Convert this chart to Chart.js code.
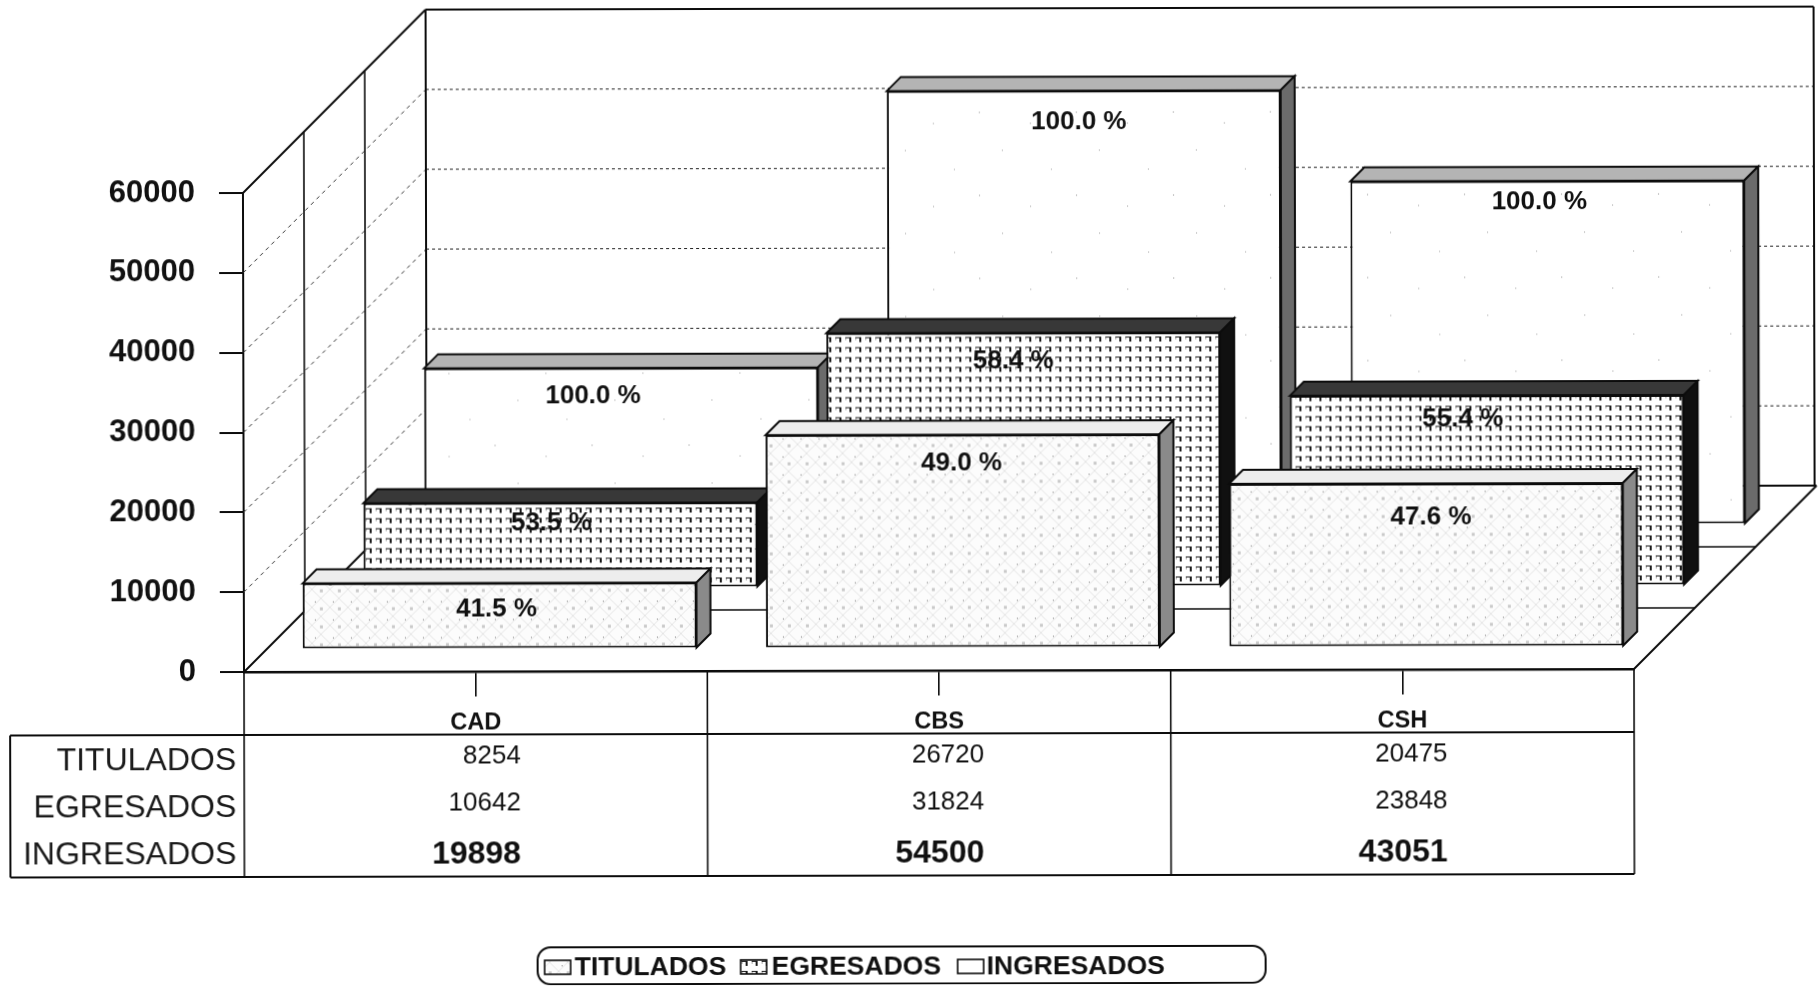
<!DOCTYPE html>
<html lang="es">
<head>
<meta charset="utf-8">
<title>Titulados, egresados e ingresados</title>
<style>
html,body{margin:0;padding:0;background:#fff;overflow:hidden}
#wrap{width:1820px;height:986px;overflow:hidden;background:#fff}
canvas{display:block;transform:rotate(-0.124deg);transform-origin:244px 672px}
</style>
<script src="https://cdn.jsdelivr.net/npm/chart.js@4/dist/chart.umd.min.js"></script>
</head>
<body>
<div id="wrap"><canvas id="c" width="1820" height="986"></canvas></div>
<script>
const categories = ["CAD", "CBS", "CSH"];
const seriesNames = ["TITULADOS", "EGRESADOS", "INGRESADOS"];
const titulados  = [8254, 26720, 20475];
const egresados  = [10642, 31824, 23848];
const ingresados = [19898, 54500, 43051];
const pctTitulados  = ["41.5 %", "49.0 %", "47.6 %"];
const pctEgresados  = ["53.5 %", "58.4 %", "55.4 %"];
const pctIngresados = ["100.0 %", "100.0 %", "100.0 %"];
const yTicksMax = 60000;
const yTickStep = 10000;

const FONT = '"Liberation Sans", Arial, sans-serif';
const INK = '#0c0c0c';

/* 3D layout: each series stands on its own floor row */
const ROW = 61;            /* depth of one floor row, px */
const BAR_DEPTH = 14;      /* depth of a bar's own top/side faces, px */
const ROW_SHIFT = [24, 85, 146];
const BAR_DROP = 1.5;      /* bars sit slightly in front of the row line */
/* hand-placed data labels: nudge from a bar's top centre, as in the original */
const LABEL_NUDGE = [
  [[-3, 28], [-1, 30], [5, 35]],
  [[-9, 22], [-10, 30], [-24, 25]],
  [[-28, 30], [-5, 33], [-8, 23]]
];

function tile(w, h, draw) {
  const c = document.createElement('canvas');
  c.width = w; c.height = h;
  const g = c.getContext('2d');
  draw(g, w, h);
  return g.createPattern(c, 'repeat');
}
const patTitulados = tile(18, 18, (g, w, h) => {
  g.fillStyle = '#fcfcfc'; g.fillRect(0, 0, w, h);
  g.strokeStyle = '#e4e4e4'; g.lineWidth = 1;
  g.beginPath();
  g.moveTo(0, 0); g.lineTo(w, h);
  g.moveTo(w, 0); g.lineTo(0, h);
  g.stroke();
  g.fillStyle = '#cacaca';
  g.fillRect(8, 0, 3, 3);
  g.fillStyle = '#777';
  g.fillRect(3, 12, 1, 1);
});
const patEgresados = tile(10, 10, (g, w, h) => {
  g.fillStyle = '#fff'; g.fillRect(0, 0, w, h);
  g.fillStyle = '#1a1a1a';
  g.fillRect(1, 2, 6, 1);
  g.fillRect(5, 3, 2, 4);
  g.fillStyle = '#aaa';
  g.fillRect(1, 3, 1, 2);
});
const patIngresados = tile(97, 83, (g, w, h) => {
  g.fillStyle = '#fff'; g.fillRect(0, 0, w, h);
  g.fillStyle = '#9a9a9a';
  g.fillRect(12, 20, 1, 1);
  g.fillRect(58, 9, 1, 1);
  g.fillRect(81, 47, 1, 1);
  g.fillRect(33, 66, 1, 1);
});
function dither(a, b) {
  return tile(2, 2, (g) => {
    g.fillStyle = a; g.fillRect(0, 0, 2, 2);
    g.fillStyle = b; g.fillRect(0, 0, 1, 1); g.fillRect(1, 1, 1, 1);
  });
}
const FACES = [
  { top: dither('#f8f8f8', '#e2e2e2'), side: dither('#6c6c6c', '#a8a8a8') },
  { top: dither('#161616', '#5a5a5a'), side: '#101010' },
  { top: dither('#989898', '#d0d0d0'), side: dither('#3c3c3c', '#9a9a9a') }
];
const FILLS = [patTitulados, patEgresados, patIngresados];
const PCTS = [pctTitulados, pctEgresados, pctIngresados];
const TABLE_VALUES = [titulados, egresados, ingresados];

function line(ctx, x1, y1, x2, y2) {
  ctx.beginPath(); ctx.moveTo(x1, y1); ctx.lineTo(x2, y2); ctx.stroke();
}

const walls = {
  id: 'walls',
  beforeDatasetsDraw(chart) {
    const { ctx, scales: { x, y } } = chart;
    const L = x.left, R = x.right, B = y.bottom, T = y.top;
    const D = ROW * 3;
    ctx.save();
    /* dashed gridlines on the side and back walls */
    for (let v = yTickStep; v < yTicksMax; v += yTickStep) {
      const py = y.getPixelForValue(v);
      ctx.strokeStyle = '#333'; ctx.lineWidth = 1; ctx.setLineDash([4, 4]);
      line(ctx, L, py, L + D, py - D);
      ctx.strokeStyle = '#222'; ctx.setLineDash([3, 3]);
      line(ctx, L + D, py - D, R + D - 2, py - D);
    }
    ctx.setLineDash([]);
    ctx.strokeStyle = INK; ctx.lineWidth = 2;
    line(ctx, L, T, L + D, T - D);
    line(ctx, L + D, T - D, R + D - 2, T - D);
    line(ctx, R + D - 2, T - D, R + D - 2, B - D);
    line(ctx, L, B, L + D, B - D);
    line(ctx, R, B, R + D, B - D);
    for (let i = 1; i <= 3; i++) {
      const d = ROW * i;
      /* row divisions: uprights on the side wall, lines across the floor */
      ctx.lineWidth = i === 3 ? 2 : 1.6;
      line(ctx, L + d, T - d, L + d, B - d);
      line(ctx, L + d, B - d, R + d, B - d);
    }
    ctx.restore();
  },
  beforeDatasetDraw(chart, args) {
    const { ctx } = chart;
    const i = args.index, s = ROW_SHIFT[i];
    ctx.save();
    ctx.translate(s, -s + BAR_DROP);
    const f = FACES[i], d = BAR_DEPTH;
    ctx.strokeStyle = INK; ctx.lineWidth = 2; ctx.lineJoin = 'miter';
    args.meta.data.forEach(el => {
      const l = el.x - el.width / 2, r = el.x + el.width / 2, t = el.y, b = el.base;
      ctx.fillStyle = f.top;
      ctx.beginPath();
      ctx.moveTo(l, t); ctx.lineTo(l + d, t - d); ctx.lineTo(r + d, t - d); ctx.lineTo(r, t);
      ctx.closePath(); ctx.fill(); ctx.stroke();
      ctx.fillStyle = f.side;
      ctx.beginPath();
      ctx.moveTo(r, t); ctx.lineTo(r + d, t - d); ctx.lineTo(r + d, b - d); ctx.lineTo(r, b);
      ctx.closePath(); ctx.fill(); ctx.stroke();
    });
  },
  afterDatasetDraw(chart) {
    chart.ctx.restore();
  },
  afterDatasetsDraw(chart) {
    const { ctx, scales: { x, y } } = chart;
    ctx.save();
    /* data labels */
    ctx.fillStyle = '#111';
    ctx.font = 'bold 26px ' + FONT;
    ctx.textAlign = 'center';
    ctx.textBaseline = 'middle';
    PCTS.forEach((row, i) => {
      const els = chart.getDatasetMeta(i).data, s = ROW_SHIFT[i];
      row.forEach((txt, j) => {
        const n = LABEL_NUDGE[i][j];
        ctx.fillText(txt, els[j].x + s + n[0], els[j].y - s + n[1]);
      });
    });

    /* data table under the axis */
    const B = y.bottom, L = x.left, R = x.right;
    const top = B + 63, bot = B + 205, outer = 10;
    ctx.strokeStyle = INK; ctx.lineWidth = 2;
    line(ctx, outer, top, R, top);
    line(ctx, outer, bot, R, bot);
    line(ctx, outer, top, outer, bot);
    ctx.lineWidth = 1.6;
    for (let k = 0; k <= categories.length; k++) {
      const px = x.getPixelForValue(k - 0.5);
      line(ctx, px, B, px, bot);
    }
    const rowY = [B + 89, B + 136, B + 183];
    ctx.textBaseline = 'middle';
    ctx.textAlign = 'right';
    seriesNames.forEach((name, r) => {
      ctx.fillStyle = '#1a1a1a';
      ctx.font = '32px ' + FONT;
      ctx.fillText(name, L - 8, rowY[r]);
      ctx.font = (r === 2 ? 'bold 32px ' : '26px ') + FONT;
      ctx.fillStyle = '#111';
      TABLE_VALUES[r].forEach((v, j) => {
        ctx.fillText(String(v), x.getPixelForValue(j) + 45, rowY[r] + (r === 2 ? 0 : -4));
      });
    });

    /* legend */
    const lx = 537, ly = 948, lw = 728, lh = 37;
    ctx.lineWidth = 2; ctx.strokeStyle = INK;
    ctx.beginPath();
    ctx.roundRect(lx, ly, lw, lh, 13);
    ctx.stroke();
    const swatchX = [544, 740, 957], textX = [574, 771, 986];
    ctx.textAlign = 'left';
    ctx.font = 'bold 26.5px ' + FONT;
    seriesNames.forEach((name, i) => {
      ctx.fillStyle = FILLS[i];
      ctx.fillRect(swatchX[i], 961, 26, 14);
      ctx.lineWidth = 1.6;
      ctx.strokeRect(swatchX[i], 961, 26, 14);
      ctx.fillStyle = '#111';
      ctx.fillText(name, textX[i], 969);
    });
    ctx.restore();
  }
};

new Chart(document.getElementById('c'), {
  type: 'bar',
  data: {
    labels: categories,
    datasets: [
      { label: seriesNames[0], data: titulados,  backgroundColor: FILLS[0] },
      { label: seriesNames[1], data: egresados,  backgroundColor: FILLS[1] },
      { label: seriesNames[2], data: ingresados, backgroundColor: FILLS[2] }
    ]
  },
  options: {
    responsive: false,
    animation: false,
    devicePixelRatio: 1,
    layout: { padding: { left: 0, top: 193, right: 186, bottom: 0 } },
    datasets: {
      bar: {
        grouped: false,
        categoryPercentage: 1,
        barPercentage: 0.85,
        borderColor: INK,
        borderWidth: 2,
        borderSkipped: false,
        clip: false
      }
    },
    plugins: { legend: { display: false }, tooltip: { enabled: false }, title: { display: false } },
    scales: {
      x: {
        type: 'category',
        offset: true,
        afterFit(s) { s.height = 314; },
        border: { color: INK, width: 2.5 },
        grid: { offset: false, drawOnChartArea: false, drawTicks: true, tickLength: 25, color: INK, lineWidth: 1.6 },
        ticks: { color: '#111', font: { family: FONT, size: 23.5, weight: 'bold' }, padding: 12, maxRotation: 0 }
      },
      y: {
        min: 0,
        max: yTicksMax,
        afterFit(s) { s.width = 244; },
        border: { color: INK, width: 2 },
        grid: { drawOnChartArea: false, drawTicks: true, tickLength: 24, color: INK, lineWidth: 2 },
        ticks: {
          stepSize: yTickStep,
          color: '#111',
          font: { family: FONT, size: 31, weight: 'bold' },
          padding: 24,
          callback: v => String(v)
        }
      }
    }
  },
  plugins: [walls]
});
</script>
</body>
</html>
